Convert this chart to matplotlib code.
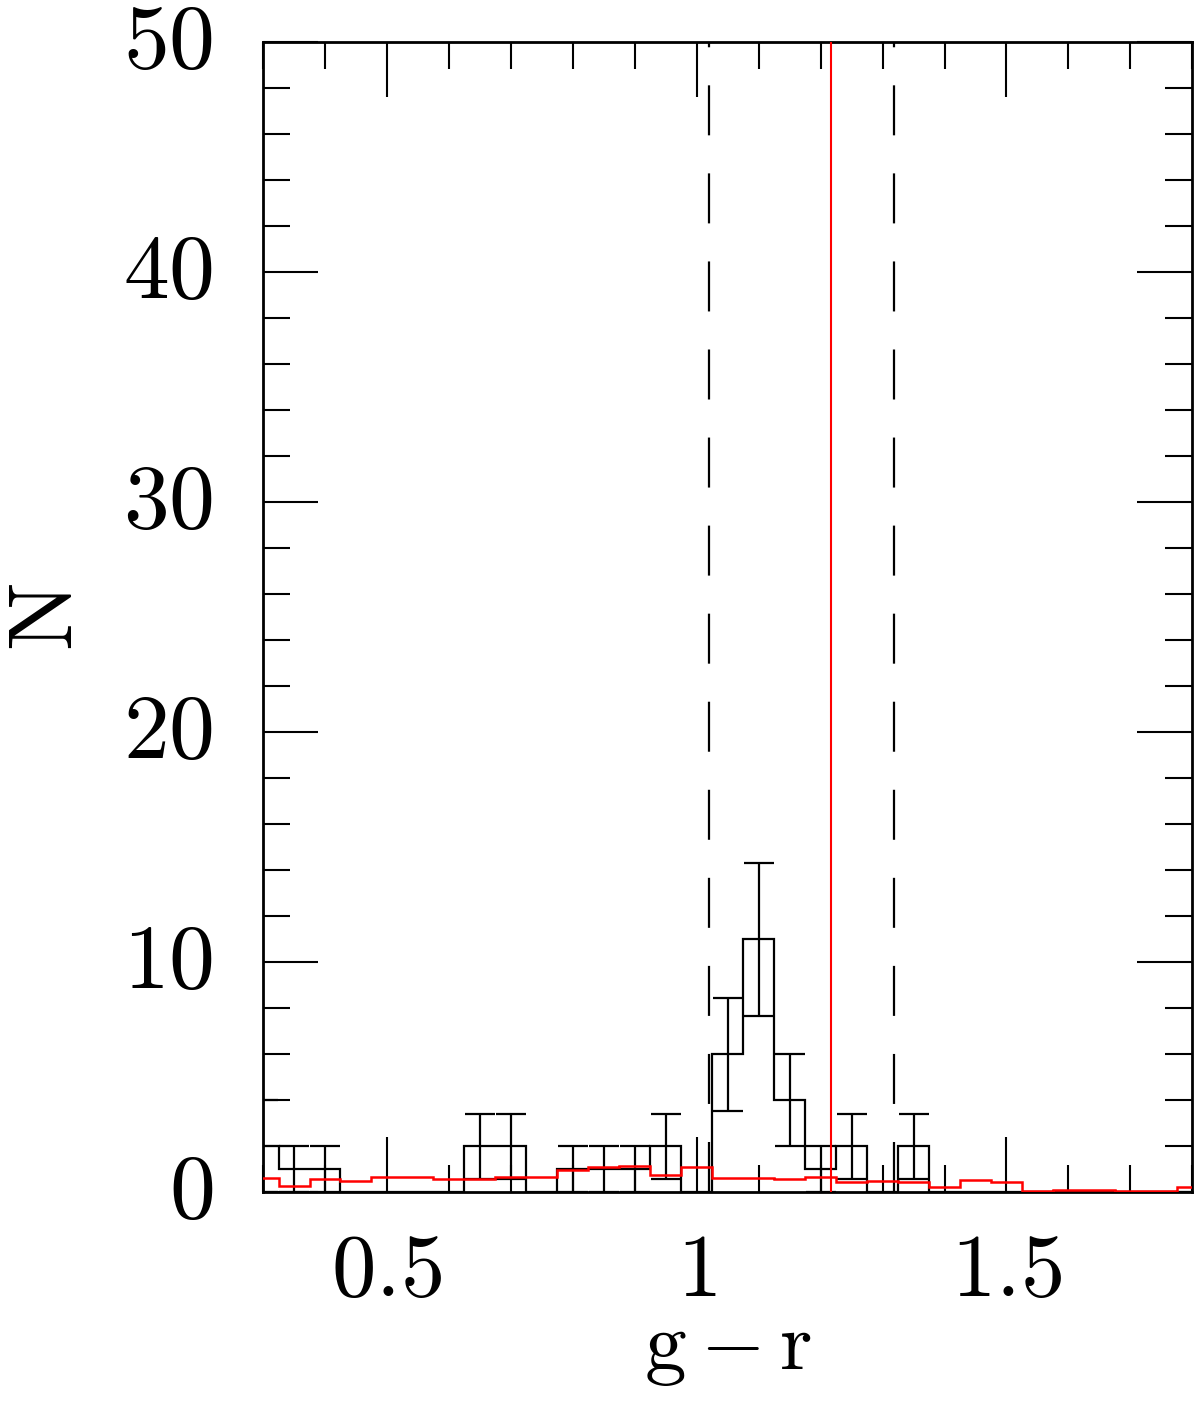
import numpy as np
import matplotlib
matplotlib.use("Agg")
import matplotlib.pyplot as plt
import matplotlib.transforms as mtrans
from matplotlib.ticker import MultipleLocator

plt.rcParams['font.family'] = ['cmr10', 'DejaVu Serif']
plt.rcParams['mathtext.fontset'] = 'cm'
plt.rcParams['lines.scale_dashes'] = False

# bin centres of the g-r histogram (width 0.05)
bin_centres = [0.30, 0.35, 0.40, 0.45, 0.50, 0.55, 0.60, 0.65, 0.70, 0.75,
               0.80, 0.85, 0.90, 0.95, 1.00, 1.05, 1.10, 1.15, 1.20, 1.25,
               1.30, 1.35, 1.40, 1.45, 1.50, 1.55, 1.60, 1.65, 1.70, 1.75, 1.80]
# observed counts
counts = [2, 1, 1, 0, 0, 0, 0, 2, 2, 0,
          1, 1, 1, 2, 0, 6, 11, 4, 1, 2,
          0, 2, 0, 0, 0, 0, 0, 0, 0, 0, 0]
count_err = [2.0, 1.0, 1.0, 0, 0, 0, 0, 1.41, 1.41, 0,
             1.0, 1.0, 1.0, 1.41, 0, 2.45, 3.32, 2.0, 1.0, 1.41,
             0, 1.41, 0, 0, 0, 0, 0, 0, 0, 0, 0]
# background (red) histogram
background = [0.61, 0.27, 0.56, 0.48, 0.68, 0.66, 0.56, 0.56, 0.66, 0.68,
              0.97, 1.08, 1.16, 0.75, 1.09, 0.61, 0.60, 0.58, 0.65, 0.44,
              0.51, 0.44, 0.21, 0.53, 0.46, 0.07, 0.12, 0.10, 0.07, 0.07, 0.23]

xtick_vals = [0.5, 1.0, 1.5]
xtick_labels = ['0.5', '1', '1.5']
ytick_vals = [0, 10, 20, 30, 40, 50]

red_line = 1.217
dash_lines = [1.02, 1.318]

bw = 0.05
c = np.array(bin_centres)
edges = np.append(c - bw / 2, c[-1] + bw / 2)
n = np.array(counts, dtype=float)
e = np.array(count_err)

fig = plt.figure(figsize=(12, 14.05), dpi=100)
ax = fig.add_axes([0.2192, 0.1514, 0.9936 - 0.2192, 0.9703 - 0.1514])

ax.stairs(n, edges, color='black', lw=1.6, zorder=3)
m = n > 0
ax.errorbar(c[m], n[m], yerr=e[m], fmt='none', ecolor='black', elinewidth=1.6,
            capsize=10.8, capthick=1.6, zorder=3)
ax.stairs(background, edges, color='red', lw=1.8, zorder=4)

ax.axvline(red_line, color='red', lw=1.5, zorder=4)
for xd in dash_lines:
    ax.plot([xd, xd], [0, 50], color='black', lw=1.6, dashes=(36, 27.4), zorder=2)

ax.set_xlim(0.3, 1.8)
ax.set_ylim(0, 50)
ax.xaxis.set_minor_locator(MultipleLocator(0.1))
ax.yaxis.set_minor_locator(MultipleLocator(2))
ax.set_xticks(xtick_vals)
ax.set_xticklabels(['$%s$' % s for s in xtick_labels])
ax.set_yticks(ytick_vals)
ax.set_yticklabels(['$%d$' % v for v in ytick_vals])

ax.tick_params(which='both', direction='in', top=True, right=True, width=1.5)
ax.tick_params(which='major', length=39.6)
ax.tick_params(which='minor', length=19.4)
ax.tick_params(axis='x', which='major', labelsize=64, pad=30)
ax.tick_params(axis='y', which='major', labelsize=66, pad=36)
for s in ax.spines.values():
    s.set_linewidth(2)

# nudge y tick labels up a little
shift = mtrans.ScaledTranslation(0, 6 / 100, fig.dpi_scale_trans)
for lab in ax.get_yticklabels():
    lab.set_transform(lab.get_transform() + shift)

ax.set_xlabel('$\\mathrm{g-r}$', fontsize=60)
ax.set_ylabel('$\\mathrm{N}$', fontsize=66)
ax.xaxis.set_label_coords(0.5, -0.106)
ax.yaxis.set_label_coords(-0.186, 0.5)

fig.savefig('out.png', dpi=100)
